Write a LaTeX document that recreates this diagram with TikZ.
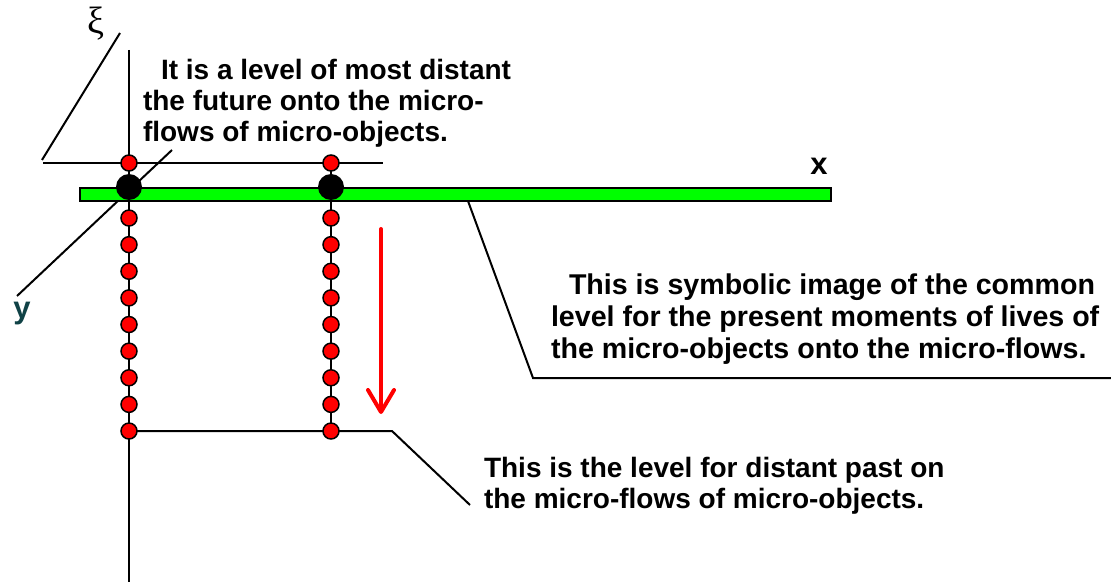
\documentclass[tikz,border=0pt]{standalone}
\usepackage{fontspec}
\setmainfont{Liberation Sans}
\newfontfamily\greekfont{Liberation Serif}
\usetikzlibrary{arrows.meta}

\definecolor{barGreen}{RGB}{0,255,0}
\definecolor{labTeal}{RGB}{16,66,70}

\tikzset{
  reddot/.style={circle,draw=black,fill=red,line width=1.5pt,minimum size=16pt,inner sep=0pt},
  blackdot/.style={circle,fill=black,minimum size=26pt,inner sep=0pt},
  notetext/.style={font=\bfseries\fontsize{28}{31}\selectfont,align=left,inner sep=0pt},
  axislab/.style={font=\bfseries\fontsize{31}{31}\selectfont,inner sep=0pt},
  flowarrow/.style={red,line width=4pt,line cap=round,-{Straight Barb[length=22pt,width=26pt,round]}}
}

\begin{document}
\begin{tikzpicture}[x=1pt,y=-1pt, line width=2pt]
  \useasboundingbox (0,0) rectangle (1111,585);
  % axes
  \coordinate (xiTop) at (120,33);
  \coordinate (xiEnd) at (42,160);
  \coordinate (axTop) at (129,50);
  \coordinate (axEnd) at (129,582);
  \coordinate (yEnd) at (17,296);
  \coordinate (futTip) at (172,150);
  \draw (axTop) -- (axEnd);
  \draw (xiEnd) -- (xiTop);
  \draw (yEnd) -- (futTip);
  \node[font=\greekfont\fontsize{38}{38}\selectfont,inner sep=0pt] (xi) at (96,24) {ξ};
  \node[axislab] (xlab) at (819,166) {x};
  \node[axislab,text=labTeal] (ylab) at (22,314) {y};

  % level of the future
  \coordinate (futL) at (43,163);
  \coordinate (futR) at (383,163);
  \draw (futL) -- (futR);

  % present level
  \draw[fill=barGreen,line width=1.5pt] (80,188) rectangle (831,201);
  \coordinate (barTip) at (468,201);
  \coordinate (presKnee) at (533,378);
  \coordinate (presEnd) at (1112,378);
  \draw (barTip) -- (presKnee) -- (presEnd);

  % micro-flows
  \foreach \i in {1,...,9} {
    \coordinate (lp\i) at (129,191.4+26.625*\i);
    \coordinate (rp\i) at (331,191.4+26.625*\i);
  }
  \coordinate (lp0) at (129,163);
  \coordinate (rp0) at (331,163);
  \coordinate (pastKnee) at (392,431);
  \coordinate (pastTip) at (470,505);
  \draw[line width=2.5pt] (lp0) -- (lp9);
  \draw[line width=2.5pt] (rp0) -- (rp9);
  \draw (lp9) -- (pastKnee) -- (pastTip);
  \foreach \i in {0,...,9} {
    \node[reddot] (l\i) at (lp\i) {};
    \node[reddot] (r\i) at (rp\i) {};
  }
  \node[blackdot] (nowL) at (129,187) {};
  \node[blackdot] (nowR) at (331,187) {};

  % direction of time
  \coordinate (flowTop) at (381,229);
  \coordinate (flowEnd) at (381,414);
  \draw[flowarrow] (flowTop) -- (flowEnd);

  \node[notetext,anchor=base west] (future) at (142,142) {\hspace*{18pt}It is a level of most distant\\the future onto the micro-\\flows of micro-objects.};
  \node[notetext,anchor=base west,font=\bfseries\fontsize{28.6}{32}\selectfont] (present) at (550,358) {\hspace*{18pt}This is symbolic image of the common\\level for the present moments of lives of\\the micro-objects onto the micro-flows.};
  \node[notetext,anchor=base west] (past) at (483,508) {This is the level for distant past on\\the micro-flows of micro-objects.};
\end{tikzpicture}
\end{document}
